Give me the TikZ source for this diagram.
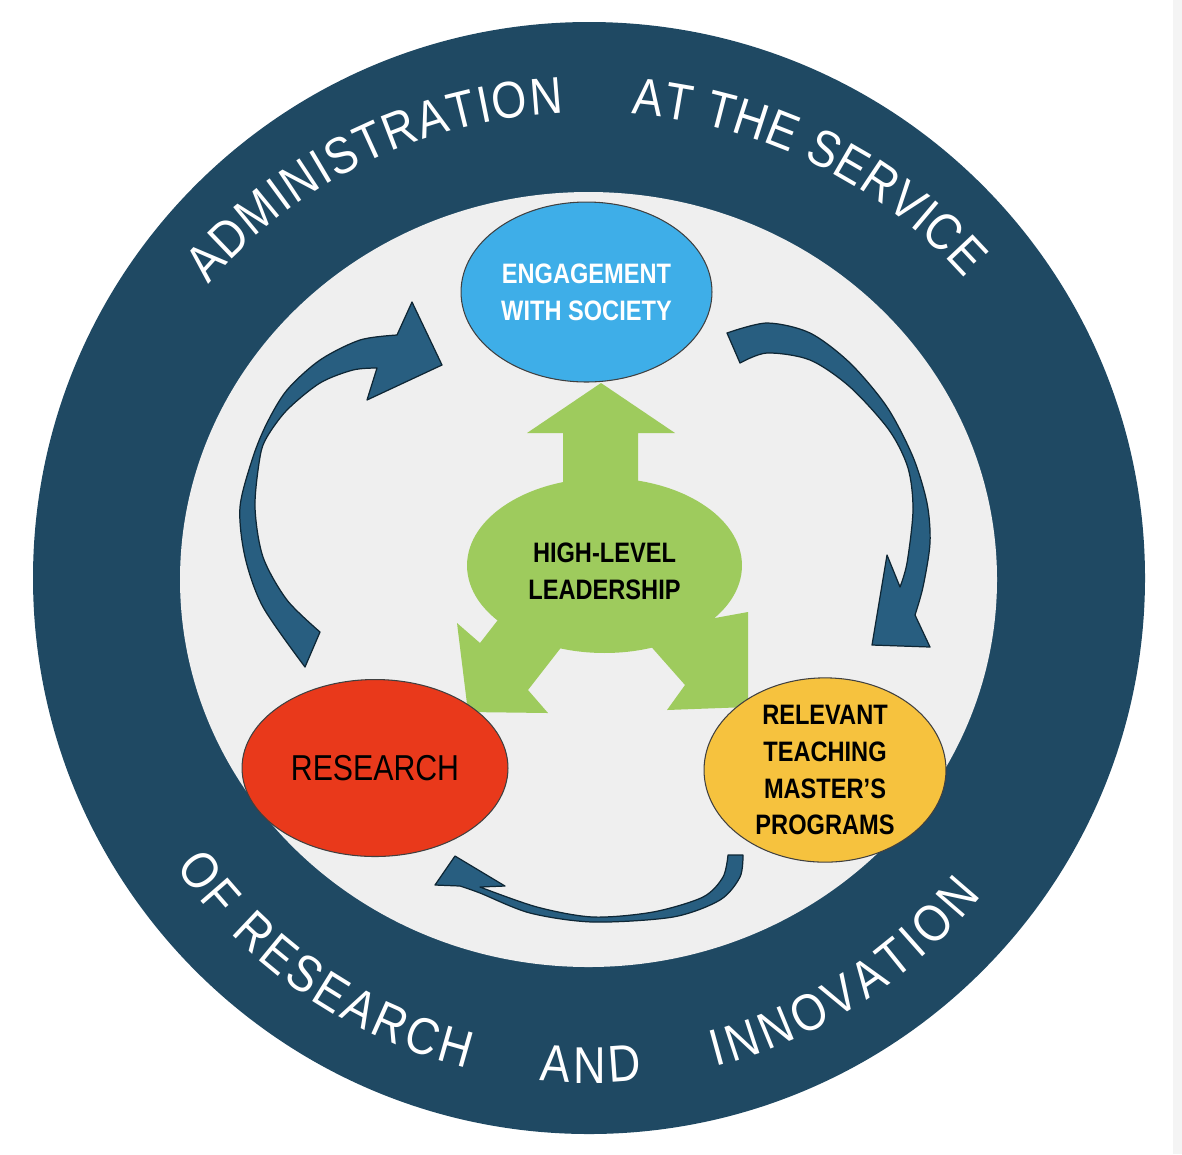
\documentclass[tikz,border=0pt]{standalone}
\usepackage{fontspec}
\setmainfont{Liberation Sans}
\newfontfamily\ringfamily[FakeStretch=0.87]{Liberation Sans}
\newfontfamily\labelfamily[FakeStretch=0.84]{Liberation Sans}
\usepackage{tikz}
\usetikzlibrary{calc,shapes.geometric,decorations.text}
\definecolor{ringblue}{RGB}{31,73,99}
\definecolor{innergray}{RGB}{239,239,239}
\definecolor{engblue}{RGB}{62,174,232}
\definecolor{resred}{RGB}{233,57,27}
\definecolor{relyellow}{RGB}{246,194,62}
\definecolor{leadgreen}{RGB}{158,203,93}
\definecolor{arrowblue}{RGB}{40,94,128}
\definecolor{arrowedge}{RGB}{14,38,52}
\definecolor{edgegray}{RGB}{244,244,244}
\newcommand{\ringtext}{\ringfamily\fontsize{29.5}{32}\selectfont}
\tikzset{
  hub/.style={ellipse,draw=black!75,line width=0.6pt,inner sep=0pt,align=center,
    font=\labelfamily\bfseries\fontsize{16}{21}\selectfont},
  bluearrow/.style={fill=arrowblue,draw=arrowedge,line width=0.7pt,line join=round},
  greenarrow/.style={fill=leadgreen},
  ringword/.style={decorate,decoration={text along path,text color=white,
    text align=fit to path,text={|\ringtext|#1}}}
}

\begin{document}
\begin{tikzpicture}[x=0.02cm,y=0.02cm]
  \useasboundingbox (0,0) rectangle (1182,-1154);
  \fill[edgegray] (1173,0) rectangle (1182,-1154);
  % ring and inner disc
  \coordinate (c) at (589,-578);
  \fill[ringblue] (c) circle[radius=556];
  \fill[innergray] (588.5,-579.5) ellipse[x radius=408.5,y radius=387.5];
  % words round the ring
  \path[ringword={ADMINISTRATION}] ($(c)+(141:490 and 466)$)
    arc[start angle=141,end angle=93,x radius=490,y radius=466];
  \path[ringword={AT THE SERVICE}] ($(c)+(85:490 and 466)$)
    arc[start angle=85,end angle=40,x radius=490,y radius=466];
  \path[ringword={OF RESEARCH}] ($(c)+(215:505)$)
    arc[start angle=215,end angle=256,radius=505];
  \path[ringword={AND}] ($(c)+(264.4:505)$)
    arc[start angle=264.4,end angle=276,radius=505];
  \path[ringword={INNOVATION}] ($(c)+(284.5:505)$)
    arc[start angle=284.5,end angle=321,radius=505];
  % curved arrows of the cycle
  \filldraw[bluearrow] plot[smooth] coordinates {(305,-667) (263,-607) (245,-557)
      (240,-507) (253,-457) (267,-423) (287,-390) (320,-360) (360,-340) (397,-335)}
    -- (412,-302) -- (442,-365) -- (367,-400)
    -- plot[smooth] coordinates {(377,-368) (353,-370) (320,-383) (287,-410)
      (267,-437) (260,-457) (255,-507) (263,-557) (287,-600) (320,-632)} -- cycle;
  \filldraw[bluearrow] plot[smooth] coordinates {(727,-333) (767,-323) (810,-333)
      (850,-363) (887,-407) (913,-457) (927,-503) (930,-543) (923,-587) (915,-615)}
    -- (930,-647) -- (872,-645) -- (887,-555)
    -- plot[smooth] coordinates {(900,-587) (907,-563) (913,-510) (908,-468)
      (889,-430) (850,-387) (810,-360) (767,-353) (740,-363)} -- cycle;
  \filldraw[bluearrow] (728,-855) -- plot[smooth] coordinates {(743,-855) (740,-877)
      (720,-900) (673,-917) (593,-922) (530,-913) (480,-893) (460,-886)}
    -- (435,-885) -- (455,-856) -- (505,-886)
    -- plot[smooth] coordinates {(480,-887) (537,-907) (593,-917) (653,-912)
      (703,-897) (723,-877) (728,-855)} -- cycle;
  % green arrows out of the leadership
  \fill[greenarrow] (563,-505) -- (563,-433) -- (527,-433) -- (601,-383)
    -- (675,-433) -- (638,-433) -- (638,-505) -- cycle;
  \fill[greenarrow] (529,-580) -- (480,-643) -- (457,-623) -- (468,-712)
    -- (548,-713) -- (528,-690) -- (577,-627) -- cycle;
  \fill[greenarrow] (662,-558) -- (715,-618) -- (748,-612) -- (748,-707)
    -- (667,-710) -- (685,-685) -- (632,-625) -- cycle;
  \node[hub,draw=none,fill=leadgreen,minimum width=5.5cm,minimum height=3.5cm]
    (lead) at (604.5,-565.5) {\rule{0pt}{18pt}HIGH-LEVEL\\LEADERSHIP};
  % the three fields
  \node[hub,fill=engblue,text=white,minimum width=5.02cm,minimum height=3.6cm]
    (eng) at (586.5,-292) {ENGAGEMENT\\WITH SOCIETY};
  \node[hub,fill=resred,minimum width=5.32cm,minimum height=3.54cm,
    font=\labelfamily\fontsize{20.5}{24}\selectfont] (res) at (375,-768) {RESEARCH};
  \node[hub,fill=relyellow,minimum width=4.84cm,minimum height=3.52cm]
    (rel) at (825,-770) {RELEVANT\\TEACHING\\MASTER’S\\PROGRAMS};
\end{tikzpicture}
\end{document}
